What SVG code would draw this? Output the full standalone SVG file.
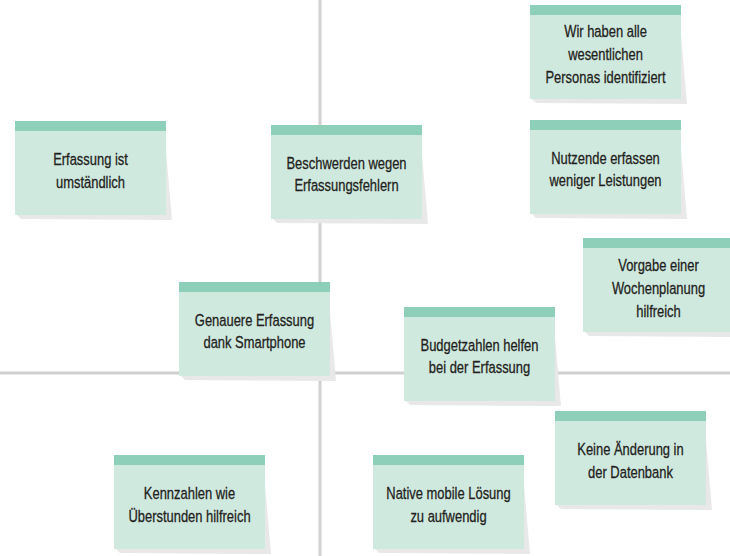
<svg xmlns="http://www.w3.org/2000/svg" width="730" height="556" viewBox="0 0 730 556">
<style>
.bg{fill:#ffffff}
.axis{stroke:#d0d0d0;stroke-width:3;fill:none}
.shadow{fill:#e8e8e8}
.body{fill:#d0e9df}
.head{fill:#8ecfba}
.t{font-family:"Liberation Sans",Arial,sans-serif;font-size:16.8px;fill:#231f20;text-anchor:middle;stroke:#231f20;stroke-width:0.3}
</style>
<defs>
<g id="paper">
<polygon class="shadow" points="151,30 157,99 6,98 2,94 151,94"/>
<rect class="body" x="0" y="0" width="151" height="94"/>
<rect class="head" x="0" y="0" width="151" height="10"/>
</g>
</defs>
<rect class="bg" x="0" y="0" width="730" height="556"/>
<g id="connectors">
<line class="axis" x1="320" y1="0" x2="320" y2="556"/>
<line class="axis" x1="0" y1="373" x2="730" y2="373"/>
</g>
<g id="n1" transform="translate(15,121)"><use href="#paper"/><g transform="translate(75.5,0) scale(0.77,1)"><text class="t" x="0" y="44.5">Erfassung ist</text><text class="t" x="0" y="67">umständlich</text></g></g>
<g id="n2" transform="translate(271,125)"><use href="#paper"/><g transform="translate(75.5,0) scale(0.77,1)"><text class="t" x="0" y="44">Beschwerden wegen</text><text class="t" x="0" y="66.5">Erfassungsfehlern</text></g></g>
<g id="n3" transform="translate(530,5)"><use href="#paper"/><g transform="translate(75.5,0) scale(0.77,1)"><text class="t" x="0" y="32.5">Wir haben alle</text><text class="t" x="0" y="55.5">wesentlichen</text><text class="t" x="0" y="78.5">Personas identifiziert</text></g></g>
<g id="n4" transform="translate(530,120)"><use href="#paper"/><g transform="translate(75.5,0) scale(0.77,1)"><text class="t" x="0" y="44">Nutzende erfassen</text><text class="t" x="0" y="66.5">weniger Leistungen</text></g></g>
<g id="n5" transform="translate(583,238)"><use href="#paper"/><g transform="translate(75.5,0) scale(0.77,1)"><text class="t" x="0" y="33">Vorgabe einer</text><text class="t" x="0" y="56">Wochenplanung</text><text class="t" x="0" y="79">hilfreich</text></g></g>
<g id="n6" transform="translate(179,282)"><use href="#paper"/><g transform="translate(75.5,0) scale(0.77,1)"><text class="t" x="0" y="44">Genauere Erfassung</text><text class="t" x="0" y="66.5">dank Smartphone</text></g></g>
<g id="n7" transform="translate(404,307)"><use href="#paper"/><g transform="translate(75.5,0) scale(0.77,1)"><text class="t" x="0" y="44">Budgetzahlen helfen</text><text class="t" x="0" y="66.5">bei der Erfassung</text></g></g>
<g id="n8" transform="translate(555,411)"><use href="#paper"/><g transform="translate(75.5,0) scale(0.77,1)"><text class="t" x="0" y="44.5">Keine Änderung in</text><text class="t" x="0" y="67">der Datenbank</text></g></g>
<g id="n9" transform="translate(373,455)"><use href="#paper"/><g transform="translate(75.5,0) scale(0.77,1)"><text class="t" x="0" y="44.5">Native mobile Lösung</text><text class="t" x="0" y="67">zu aufwendig</text></g></g>
<g id="n10" transform="translate(114,455)"><use href="#paper"/><g transform="translate(75.5,0) scale(0.77,1)"><text class="t" x="0" y="44.5">Kennzahlen wie</text><text class="t" x="0" y="67">Überstunden hilfreich</text></g></g>
</svg>
